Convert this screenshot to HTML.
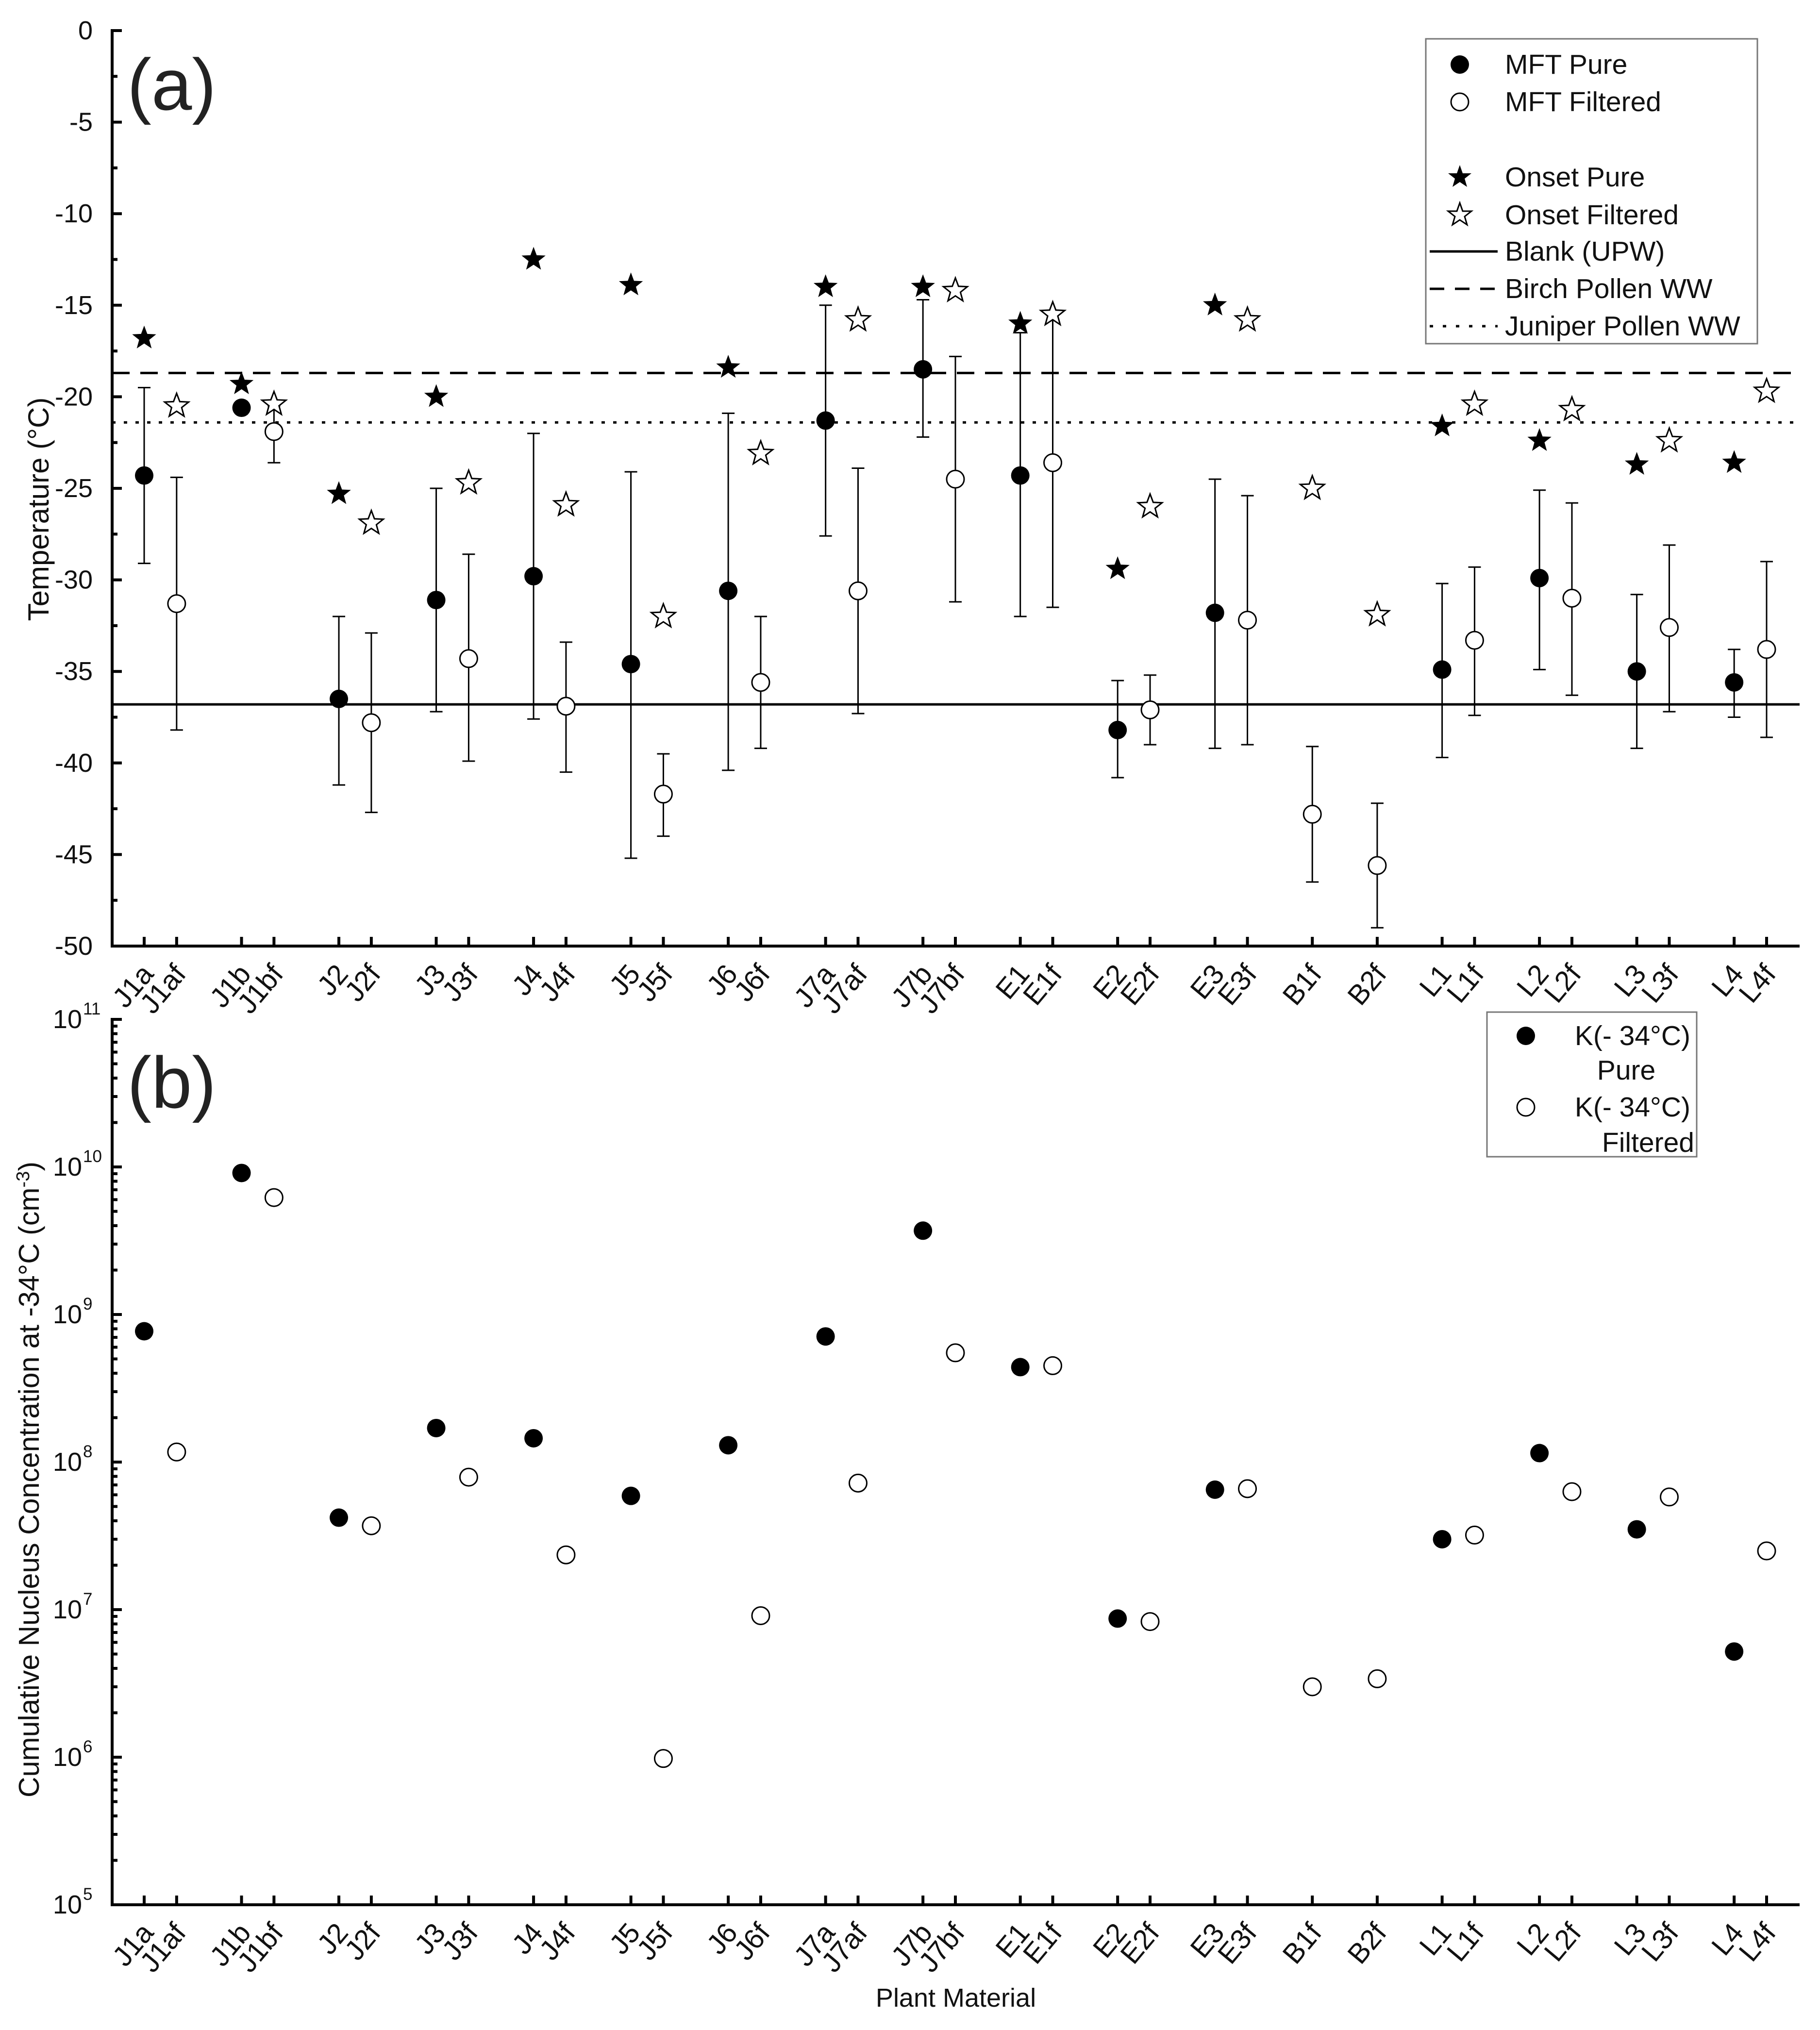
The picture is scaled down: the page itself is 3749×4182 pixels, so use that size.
<!DOCTYPE html>
<html><head><meta charset="utf-8">
<style>
html,body{margin:0;padding:0;background:#fff;}
svg{display:block;font-family:"Liberation Sans",Arial,sans-serif;}
</style></head>
<body>
<svg id="chart" width="3749" height="4182" viewBox="0 0 3749 4182" xmlns="http://www.w3.org/2000/svg">
<g id="layer"></g>
</svg>
<script>
// ---- data ----
const categories = ["J1a","J1af","","J1b","J1bf","","J2","J2f","","J3","J3f","","J4","J4f","","J5","J5f","","J6","J6f","","J7a","J7af","","J7b","J7bf","","E1","E1f","","E2","E2f","","E3","E3f","","B1f","","B2f","","L1","L1f","","L2","L2f","","L3","L3f","","L4","L4f"];
const pureCats = ["J1a","J1b","J2","J3","J4","J5","J6","J7a","J7b","E1","E2","E3","L1","L2","L3","L4"];
const filtCats = ["J1af","J1bf","J2f","J3f","J4f","J5f","J6f","J7af","J7bf","E1f","E2f","E3f","B1f","B2f","L1f","L2f","L3f","L4f"];
const mftPure    = [-24.3,-20.6,-36.5,-31.1,-29.8,-34.6,-30.6,-21.3,-18.5,-24.3,-38.2,-31.8,-34.9,-29.9,-35.0,-35.6];
const mftPureHi  = [-19.5,-20.3,-32.0,-25.0,-22.0,-24.1,-20.9,-15.0,-14.7,-16.5,-35.5,-24.5,-30.2,-25.1,-30.8,-33.8];
const mftPureLo  = [-29.1,-20.9,-41.2,-37.2,-37.6,-45.2,-40.4,-27.6,-22.2,-32.0,-40.8,-39.2,-39.7,-34.9,-39.2,-37.5];
const mftFilt    = [-31.3,-21.9,-37.8,-34.3,-36.9,-41.7,-35.6,-30.6,-24.5,-23.6,-37.1,-32.2,-42.8,-45.6,-33.3,-31.0,-32.6,-33.8];
const mftFiltHi  = [-24.4,-20.5,-32.9,-28.6,-33.4,-39.5,-32.0,-23.9,-17.8,-15.5,-35.2,-25.4,-39.1,-42.2,-29.3,-25.8,-28.1,-29.0];
const mftFiltLo  = [-38.2,-23.6,-42.7,-39.9,-40.5,-44.0,-39.2,-37.3,-31.2,-31.5,-39.0,-39.0,-46.5,-49.0,-37.4,-36.3,-37.2,-38.6];
const onsetPure  = [-16.8,-19.3,-25.3,-20.0,-12.5,-13.9,-18.4,-14.0,-14.0,-16.0,-29.4,-15.0,-21.6,-22.4,-23.7,-23.6];
const onsetFilt  = [-20.5,-20.4,-26.9,-24.7,-25.9,-32.0,-23.1,-15.8,-14.2,-15.5,-26.0,-15.8,-25.0,-31.9,-20.4,-20.7,-22.4,-19.7];
const refNames   = ["Blank (UPW)","Birch Pollen WW","Juniper Pollen WW"];
const refValues  = [-36.8,-18.7,-21.4];
const kPure      = [7.7e8,9.1e9,4.2e7,1.7e8,1.45e8,5.9e7,1.3e8,7.1e8,3.7e9,4.4e8,8.7e6,6.5e7,3.0e7,1.15e8,3.5e7,5.2e6];
const kFilt      = [1.17e8,6.2e9,3.7e7,7.9e7,2.35e7,9.8e5,9.1e6,7.2e7,5.5e8,4.5e8,8.3e6,6.6e7,3.0e6,3.4e6,3.2e7,6.3e7,5.8e7,2.5e7];
const tempTicks  = [0,-5,-10,-15,-20,-25,-30,-35,-40,-45,-50];
const logTicks   = [5,6,7,8,9,10,11];

// ---- scales ----
const NS="http://www.w3.org/2000/svg";
const layer=document.getElementById('layer');
const X0=297, XS=(3639-297)/(categories.length-1), AX=231, AXR=3707;
const TY0=63, TY1=1949, BY0=2100, BY1=3924;
function xPos(c){return X0+XS*categories.indexOf(c);}
function yT(v){return TY0+(0-v)/50*(TY1-TY0);}
function yL(v){return BY1-(Math.log10(v)-5)/6*(BY1-BY0);}
function mk(tag,attrs,parent){const e=document.createElementNS(NS,tag);for(const k in attrs)e.setAttribute(k,attrs[k]);(parent||layer).appendChild(e);return e;}
function starPts(cx,cy,R){const r=R*0.42;let p=[];for(let i=0;i<10;i++){const a=-Math.PI/2+i*Math.PI/5;const rr=i%2?r:R;p.push((cx+rr*Math.cos(a)).toFixed(1)+","+(cy+rr*Math.sin(a)).toFixed(1));}return p.join(" ");}

let e;
// ---- axes top ----
e=mk('path',{d:`M${AX} ${TY0-3} V${TY1} H${AXR}`,stroke:'#000','stroke-width':6,fill:'none'});


tempTicks.forEach(t=>{
  const y=yT(t);
  e=mk('line',{x1:AX,x2:AX+20,y1:y,y2:y,stroke:'#000','stroke-width':6});
  
  
  e=mk('text',{x:AX-40,y:y+18,'text-anchor':'end','font-size':54,fill:'#111'});
  e.textContent=String(t);
  
  
  if(t>-50){const ym=yT(t-2.5);
    e=mk('line',{x1:AX,x2:AX+11,y1:ym,y2:ym,stroke:'#000','stroke-width':6});
    
    }
});
// ---- axes bottom ----
e=mk('path',{d:`M${AX} ${BY0-3} V${BY1} H${AXR}`,stroke:'#000','stroke-width':6,fill:'none'});


logTicks.forEach(t=>{
  const y=yL(Math.pow(10,t));
  e=mk('line',{x1:AX,x2:AX+20,y1:y,y2:y,stroke:'#000','stroke-width':6});
  
  
  e=mk('text',{x:AX-62,y:y+18,'text-anchor':'end','font-size':54,fill:'#111'});
  e.textContent='10';
  
  
  e=mk('text',{x:AX-60,y:y-10,'text-anchor':'start','font-size':35,fill:'#111'});
  e.textContent=String(t);
  
  
  if(t<11){for(let m=2;m<10;m++){const ym=yL(m*Math.pow(10,t));
    e=mk('line',{x1:AX,x2:AX+11,y1:ym,y2:ym,stroke:'#000','stroke-width':6});
    
    }}
});
// ---- x ticks & labels ----
categories.forEach(c=>{
  if(!c)return;
  const x=xPos(c);
  [[TY1,2008],[BY1,3983]].forEach(([ay,ly])=>{
    e=mk('line',{x1:x,x2:x,y1:ay,y2:ay-19,stroke:'#000','stroke-width':6});
    
    
    e=mk('text',{x:x+22,y:ly,'text-anchor':'end','font-size':58,fill:'#111',transform:`rotate(-50 ${x+22} ${ly})`});
    e.textContent=c;
    
    
  });
});
// ---- reference lines ----
const refDash=['none','36 22','7 17'];
refValues.forEach((v,i)=>{
  e=mk('line',{x1:AX,x2:AXR,y1:yT(v),y2:yT(v),stroke:'#000','stroke-width':5,'stroke-dasharray':refDash[i]});
  
  
});
// ---- error bars & circles ----
function errBars(cats,vals,hi,lo,filled){
  cats.forEach((c,i)=>{
    const x=xPos(c);
    e=mk('path',{d:`M${x} ${yT(hi[i])} V${yT(lo[i])} M${x-13} ${yT(hi[i])} H${x+13} M${x-13} ${yT(lo[i])} H${x+13}`,stroke:'#000','stroke-width':3,fill:'none'});
    
    
    e=mk('circle',{cx:x,cy:yT(vals[i]),r:filled?19:18,fill:filled?'#000':'#fff',stroke:'#000','stroke-width':filled?0:3});
    
    
  });
}
errBars(pureCats,mftPure,mftPureHi,mftPureLo,true);
errBars(filtCats,mftFilt,mftFiltHi,mftFiltLo,false);
pureCats.forEach((c,i)=>{
  e=mk('polygon',{points:starPts(xPos(c),yT(onsetPure[i]),26),fill:'#000'});
  
  
});
filtCats.forEach((c,i)=>{
  e=mk('polygon',{points:starPts(xPos(c),yT(onsetFilt[i]),26),fill:'#fff',stroke:'#000','stroke-width':3});
  
  
});
// ---- bottom points ----
pureCats.forEach((c,i)=>{
  e=mk('circle',{cx:xPos(c),cy:yL(kPure[i]),r:19,fill:'#000'});
  
  
});
filtCats.forEach((c,i)=>{
  e=mk('circle',{cx:xPos(c),cy:yL(kFilt[i]),r:18,fill:'#fff',stroke:'#000','stroke-width':3});
  
  
});
</script>
<!-- static text & legends -->
<svg style="position:absolute;left:0;top:0" width="3749" height="4182" viewBox="0 0 3749 4182" xmlns="http://www.w3.org/2000/svg" font-family="Liberation Sans, Arial, sans-serif">
  <text x="262" y="226" font-size="150" fill="#222">(a)</text>
  <text x="262" y="2282" font-size="150" fill="#222">(b)</text>
  <text transform="translate(100 1049) rotate(-90)" text-anchor="middle" font-size="60" fill="#111">Temperature (°C)</text>
  <text transform="translate(80 3048) rotate(-90)" text-anchor="middle" font-size="59" fill="#111">Cumulative Nucleus Concentration at -34°C (cm<tspan dy="-20" font-size="38">-3</tspan><tspan dy="20">)</tspan></text>
  <text x="1969" y="4134" text-anchor="middle" font-size="54" fill="#111">Plant Material</text>
  <g>
    <rect x="2937" y="80" width="683" height="628" fill="#fff" stroke="#777" stroke-width="3"/>
    <circle cx="3007" cy="133" r="19" fill="#000"/>
    <text x="3100" y="152" font-size="57" fill="#111">MFT Pure</text>
    <circle cx="3007" cy="210" r="18" fill="#fff" stroke="#000" stroke-width="3"/>
    <text x="3100" y="229" font-size="57" fill="#111">MFT Filtered</text>
    <polygon points="3007,340 3013,357 3031,357 3017,368 3022,385 3007,375 2992,385 2997,368 2983,357 3001,357" fill="#000"/>
    <text x="3100" y="384" font-size="57" fill="#111">Onset Pure</text>
    <polygon points="3007,418 3013,435 3031,435 3017,446 3022,463 3007,453 2992,463 2997,446 2983,435 3001,435" fill="#fff" stroke="#000" stroke-width="3"/>
    <text x="3100" y="462" font-size="57" fill="#111">Onset Filtered</text>
    <line x1="2945" x2="3085" y1="518" y2="518" stroke="#000" stroke-width="5"/>
    <text x="3100" y="537" font-size="57" fill="#111">Blank (UPW)</text>
    <line x1="2945" x2="3085" y1="595" y2="595" stroke="#000" stroke-width="5" stroke-dasharray="30 22"/>
    <text x="3100" y="614" font-size="57" fill="#111">Birch Pollen WW</text>
    <line x1="2945" x2="3085" y1="672" y2="672" stroke="#000" stroke-width="5" stroke-dasharray="7 20"/>
    <text x="3100" y="691" font-size="57" fill="#111">Juniper Pollen WW</text>
  </g>
  <g>
    <rect x="3063" y="2085" width="432" height="298" fill="none" stroke="#777" stroke-width="3"/>
    <circle cx="3143" cy="2134" r="19" fill="#000"/>
    <text x="3482" y="2153" text-anchor="end" font-size="57" fill="#111">K(- 34°C)</text>
    <text x="3350" y="2224" text-anchor="middle" font-size="57" fill="#111">Pure</text>
    <circle cx="3143" cy="2281" r="18" fill="#fff" stroke="#000" stroke-width="3"/>
    <text x="3482" y="2300" text-anchor="end" font-size="57" fill="#111">K(- 34°C)</text>
    <text x="3490" y="2373" text-anchor="end" font-size="57" fill="#111">Filtered</text>
  </g>
</svg>
</body></html>
